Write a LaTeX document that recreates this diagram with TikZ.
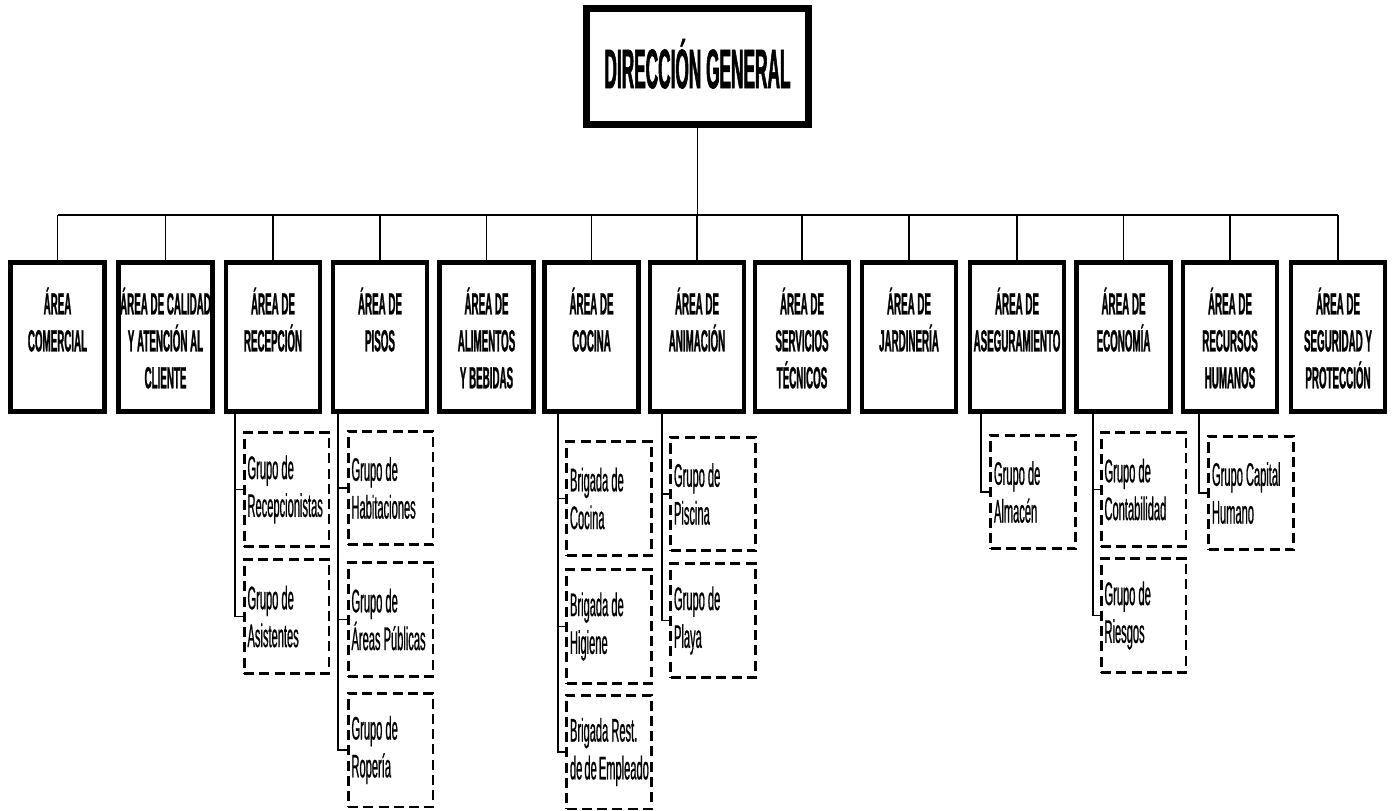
\documentclass[tikz,border=0pt]{standalone}
\usepackage{fontspec}
\setmainfont{Liberation Sans}
\usetikzlibrary{positioning}
\newfontfamily\dgfont[FakeStretch=0.31,FakeBold=1]{Liberation Sans Bold}
\newfontfamily\areafont[FakeStretch=0.32,FakeBold=0.8]{Liberation Sans Bold}
\newfontfamily\grupofont[FakeStretch=0.34,FakeBold=0.6]{Liberation Sans}
\hyphenpenalty=10000

\begin{document}
\begin{tikzpicture}[x=0.02cm,y=-0.02cm,
    dirbox/.style={draw,line width=4pt,minimum width=4.44cm,minimum height=2.32cm,
      font=\dgfont\fontsize{31.7}{36}\selectfont},
    areabox/.style={draw,line width=2.8pt,minimum width=1.88cm,minimum height=2.98cm},
    areatext/.style={anchor=north,align=center,inner sep=0pt,
      font=\areafont\fontsize{17.4}{21}\selectfont},
    grupobox/.style={draw,line width=1.7pt,dash pattern=on 5.7pt off 3pt,
      minimum width=1.70cm,minimum height=2.28cm,text width=1.56cm,inner xsep=0.07cm,
      align=flush left,font=\grupofont\fontsize{18.6}{21.5}\selectfont},
    conn/.style={line width=0.8pt}]
	\useasboundingbox (0,0) rectangle (1397,811);
	% top
	\node[dirbox] (dg) at (697.5,66.5) {\raisebox{0.12cm}{DIRECCIÓN GENERAL}};
	\coordinate (bus) at (697.5,215);
	\draw[conn] (dg) -- (bus);
	% areas
	\foreach \i/\x/\txt in {1/57.5/{ÁREA\\COMERCIAL},2/165.5/{ÁREA DE CALIDAD\\Y ATENCIÓN AL\\CLIENTE},
	    3/273/{ÁREA DE\\RECEPCIÓN},4/380/{ÁREA DE\\PISOS},5/486.5/{ÁREA DE\\ALIMENTOS\\Y BEBIDAS},
	    6/591.5/{ÁREA DE\\COCINA},7/697/{ÁREA DE\\ANIMACIÓN},8/802/{ÁREA DE\\SERVICIOS\\TÉCNICOS},
	    9/909/{ÁREA DE\\JARDINERÍA},10/1017/{ÁREA DE\\ASEGURAMIENTO},11/1123.5/{ÁREA DE\\ECONOMÍA},
	    12/1230/{ÁREA DE\\RECURSOS\\HUMANOS},13/1338/{ÁREA DE\\SEGURIDAD Y\\PROTECCIÓN}}{
		\node[areabox] (a\i) at (\x,337) {};
		\node[areatext] (t\i) at ([yshift=-0.54cm]a\i.north) {\txt};
		\draw[conn] (a\i.north) -- (a\i.north |- bus);
	}
	\draw[conn] (a1.north |- bus) -- (a13.north |- bus);
	% grupos and brigadas
	\foreach \n/\p/\lx/\x/\y/\txt in {
	    r1/a3/235/286.5/489.5/{Grupo de\\Recepcionistas},r2/a3/235/286.5/616.5/{Grupo de\\Asistentes},
	    p1/a4/338/390.5/488/{Grupo de\\Habitaciones},p2/a4/338/390.5/619.5/{Grupo de\\Áreas~Públicas},
	    p3/a4/338/390.5/750/{Grupo de\\Ropería},
	    c1/a6/558/609/498.5/{Brigada de\\Cocina},c2/a6/558/609/626.5/{Brigada de\\Higiene},
	    c3/a6/558/609/752/{Brigada Rest.\\de~de~Empleado},
	    n1/a7/662/713/494/{Grupo de\\Piscina},n2/a7/662/713/620.5/{Grupo de\\Playa},
	    s1/a10/981/1033/492/{Grupo de\\Almacén},
	    e1/a11/1093/1143.5/489.5/{Grupo de\\Contabilidad},e2/a11/1093/1143.5/615.5/{Grupo de\\Riesgos},
	    h1/a12/1199/1251/493/{Grupo~Capital\\Humano}}{
		\node[grupobox] (\n) at (\x,\y) {\txt};
		\draw[conn] (\p.south -| \lx,0) |- (\n.west);
	}
\end{tikzpicture}
\end{document}
